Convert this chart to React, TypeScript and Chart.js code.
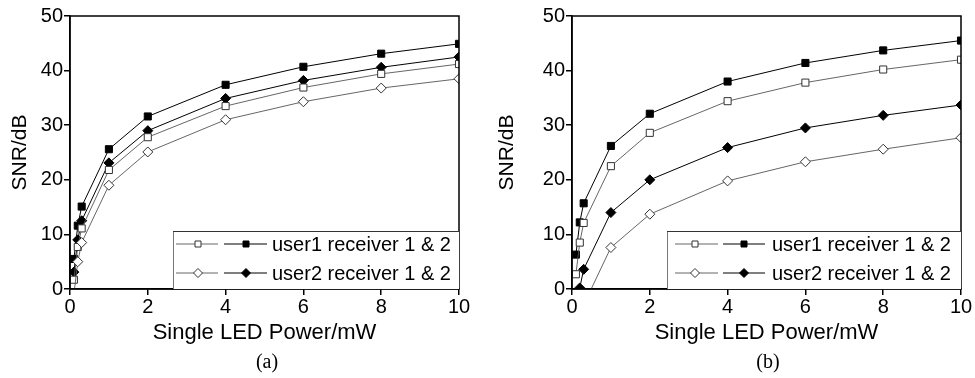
import React, { useEffect, useRef } from "react";
import { Chart, registerables } from "chart.js";

Chart.register(...registerables);

// LED power levels (mW) shared by both panels
const powerLevels = [0.1, 0.2, 0.3, 1, 2, 4, 6, 8, 10];

// Panel (a)
const aUser1Rx1 = [1.7, 7.7, 11.1, 21.8, 27.8, 33.5, 36.9, 39.4, 41.2];
const aUser1Rx2 = [5.5, 11.6, 15.1, 25.6, 31.6, 37.4, 40.7, 43.1, 44.9];
const aUser2Rx1 = [-1.0, 5.0, 8.5, 19.0, 25.1, 31.0, 34.3, 36.8, 38.5];
const aUser2Rx2 = [3.1, 9.0, 12.5, 23.1, 29.0, 34.9, 38.2, 40.6, 42.5];

// Panel (b)
const bUser1Rx1 = [2.7, 8.5, 12.1, 22.5, 28.6, 34.4, 37.8, 40.2, 42.0];
const bUser1Rx2 = [6.3, 12.2, 15.7, 26.2, 32.1, 38.0, 41.4, 43.7, 45.5];
const bUser2Rx1 = [-12.4, -6.4, -2.9, 7.6, 13.7, 19.8, 23.3, 25.6, 27.7];
const bUser2Rx2 = [-5.9, 0.2, 3.6, 14.0, 20.0, 25.9, 29.5, 31.8, 33.7];

const legendLabels = ["user1 receiver 1 & 2", "user2 receiver 1 & 2"];
const xTitle = "Single LED Power/mW";
const yTitle = "SNR/dB";

const FONT = "'Liberation Sans', Arial, sans-serif";

const openStyle = { bg: "#ffffff", border: "#333333", line: "#555555", lineWidth: 0.9 };
const filledStyle = { bg: "#000000", border: "#000000", line: "#000000", lineWidth: 1 };

function series(values: number[], shape: string, filled: boolean) {
  const st = filled ? filledStyle : openStyle;
  return {
    data: powerLevels.map((x, i) => ({ x, y: values[i] })),
    borderColor: st.line,
    borderWidth: st.lineWidth,
    pointStyle: shape,
    pointRadius: 5,
    pointBackgroundColor: st.bg,
    pointBorderColor: st.border,
    pointBorderWidth: 1,
    tension: 0,
    clip: 0,
  };
}

type LegendLayout = {
  left: number;
  top: number;
  rows: number[];
  line1: [number, number];
  mark1: number;
  line2: [number, number];
  mark2: number;
  text: number;
};

function drawMarker(ctx: CanvasRenderingContext2D, shape: string, x: number, y: number, filled: boolean) {
  const st = filled ? filledStyle : openStyle;
  ctx.save();
  ctx.fillStyle = st.bg;
  ctx.strokeStyle = st.border;
  ctx.lineWidth = 1;
  ctx.beginPath();
  if (shape === "rect") {
    const s = 3;
    ctx.rect(x - s, y - s, 2 * s, 2 * s);
  } else {
    const r = 4.5;
    ctx.moveTo(x, y - r);
    ctx.lineTo(x + r, y);
    ctx.lineTo(x, y + r);
    ctx.lineTo(x - r, y);
    ctx.closePath();
  }
  ctx.fill();
  ctx.stroke();
  ctx.restore();
}

function framePlugin() {
  return {
    id: "frame",
    afterDatasetsDraw(chart: any) {
      const { ctx, chartArea } = chart;
      ctx.save();
      ctx.strokeStyle = "#000";
      ctx.lineWidth = 1.5;
      ctx.strokeRect(chartArea.left, chartArea.top, chartArea.right - chartArea.left, chartArea.bottom - chartArea.top);
      ctx.restore();
    },
  };
}

function legendPlugin(lay: LegendLayout) {
  return {
    id: "pairLegend",
    afterDraw(chart: any) {
      const { ctx, chartArea } = chart;
      const L = lay.left;
      const T = lay.top;
      const R = chartArea.right;
      const B = chartArea.bottom;
      ctx.save();
      ctx.fillStyle = "#fff";
      ctx.fillRect(L, T, R - L, B - T);
      ctx.lineWidth = 1;
      ctx.strokeStyle = "#777";
      ctx.beginPath();
      ctx.moveTo(L + 0.5, B);
      ctx.lineTo(L + 0.5, T + 0.5);
      ctx.stroke();
      ctx.strokeStyle = "#333";
      ctx.beginPath();
      ctx.moveTo(L, T + 0.5);
      ctx.lineTo(R, T + 0.5);
      ctx.stroke();
      ctx.restore();

      const shapes = ["rect", "rectRot"];
      lay.rows.forEach((ry, i) => {
        const y = T + ry;
        ctx.save();
        ctx.strokeStyle = openStyle.line;
        ctx.lineWidth = 0.9;
        ctx.beginPath();
        ctx.moveTo(L + lay.line1[0], y);
        ctx.lineTo(L + lay.line1[1], y);
        ctx.stroke();
        ctx.strokeStyle = "#000";
        ctx.lineWidth = 1;
        ctx.beginPath();
        ctx.moveTo(L + lay.line2[0], y);
        ctx.lineTo(L + lay.line2[1], y);
        ctx.stroke();
        ctx.restore();
        drawMarker(ctx, shapes[i], L + lay.mark1, y, false);
        drawMarker(ctx, shapes[i], L + lay.mark2, y, true);
        ctx.save();
        ctx.fillStyle = "#000";
        ctx.font = `20px ${FONT}`;
        ctx.textBaseline = "middle";
        ctx.textAlign = "left";
        ctx.fillText(legendLabels[i], L + lay.text, y + 1);
        ctx.restore();
      });
    },
  };
}

function buildConfig(u1r1: number[], u1r2: number[], u2r1: number[], u2r2: number[], yAxisWidth: number, rightPad: number, lay: LegendLayout) {
  const tickFont = { family: FONT, size: 20 };
  return {
    type: "line" as const,
    data: {
      datasets: [
        series(u2r1, "rectRot", false),
        series(u1r1, "rect", false),
        series(u2r2, "rectRot", true),
        series(u1r2, "rect", true),
      ],
    },
    options: {
      animation: false,
      responsive: false,
      maintainAspectRatio: false,
      layout: { padding: { top: 16, right: rightPad, left: 0, bottom: 0 } },
      plugins: { legend: { display: false }, tooltip: { enabled: false } },
      scales: {
        x: {
          type: "linear",
          min: 0,
          max: 10,
          ticks: { stepSize: 2, color: "#000", font: tickFont, padding: 0, maxRotation: 0 },
          grid: { drawOnChartArea: false, drawTicks: true, tickLength: 6, color: "#000", lineWidth: 1.5 },
          border: { color: "#000", width: 1.5 },
          title: { display: true, text: xTitle, color: "#000", font: { family: FONT, size: 22 }, padding: { top: 0, bottom: 4 } },
          afterFit: (s: any) => {
            s.height = 61;
          },
        },
        y: {
          type: "linear",
          min: 0,
          max: 50,
          ticks: { stepSize: 10, color: "#000", font: tickFont, padding: 1 },
          grid: { drawOnChartArea: false, drawTicks: true, tickLength: 6, color: "#000", lineWidth: 1.5 },
          border: { color: "#000", width: 1.5 },
          title: { display: true, text: yTitle, color: "#000", font: { family: FONT, size: 21 }, padding: { top: 8, bottom: 0 } },
          afterFit: (s: any) => {
            s.width = yAxisWidth;
          },
        },
      },
    },
    plugins: [framePlugin(), legendPlugin(lay)],
  };
}

function Panel(props: { config: any; left: number; width: number; caption: string; captionX: number }) {
  const ref = useRef<HTMLCanvasElement | null>(null);
  useEffect(() => {
    if (!ref.current) return;
    const chart = new Chart(ref.current, props.config);
    return () => chart.destroy();
  }, []);
  return (
    <>
      <div style={{ position: "absolute", left: props.left, top: 0, width: props.width, height: 350 }}>
        <canvas ref={ref} width={props.width} height={350} style={{ width: props.width, height: 350, display: "block" }} />
      </div>
      <div
        style={{
          position: "absolute",
          left: props.captionX - 30,
          width: 60,
          top: 349,
          textAlign: "center",
          fontFamily: "'Liberation Serif', 'Times New Roman', serif",
          fontSize: 20,
          lineHeight: "24px",
          color: "#000",
        }}
      >
        {props.caption}
      </div>
    </>
  );
}

const legendA: LegendLayout = {
  left: 173,
  top: 231,
  rows: [13, 42],
  line1: [3, 45],
  mark1: 25,
  line2: [51, 94],
  mark2: 73,
  text: 99,
};

const legendB: LegendLayout = {
  left: 667 - 487,
  top: 231,
  rows: [13, 42],
  line1: [8, 51],
  mark1: 28,
  line2: [56, 98],
  mark2: 77,
  text: 105,
};

export default function App() {
  const configA = buildConfig(aUser1Rx1, aUser1Rx2, aUser2Rx1, aUser2Rx2, 70, 28, legendA);
  const configB = buildConfig(bUser1Rx1, bUser1Rx2, bUser2Rx1, bUser2Rx2, 85, 14, legendB);
  return (
    <div style={{ position: "fixed", left: 0, top: 0, width: 975, height: 378, background: "#fff", overflow: "hidden" }}>
      <Panel config={configA} left={0} width={487} caption="(a)" captionX={267} />
      <Panel config={configB} left={487} width={488} caption="(b)" captionX={768} />
    </div>
  );
}
